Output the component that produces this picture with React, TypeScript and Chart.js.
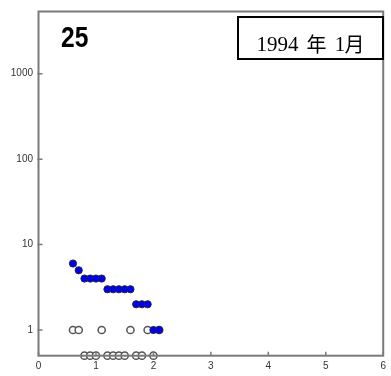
import React, { useEffect, useRef } from "react";
import { Chart, registerables } from "chart.js";

Chart.register(...registerables);

// Magnitude bins
const magnitudes = [0.6, 0.7, 0.8, 0.9, 1.0, 1.1, 1.2, 1.3, 1.4, 1.5, 1.6, 1.7, 1.8, 1.9, 2.0, 2.1];
// Cumulative number N(>=M) (filled blue)
const cumulativeCounts = [6, 5, 4, 4, 4, 4, 3, 3, 3, 3, 3, 2, 2, 2, 1, 1];
// Non-cumulative number per bin (hollow); zero counts drawn on the axis floor
const binCounts = [1, 1, 0, 0, 0, 1, 0, 0, 0, 0, 1, 0, 0, 1, 0, 1];
const zeroFloor = 0.5;

const xTicks = [0, 1, 2, 3, 4, 5, 6];
const yTicks = [1, 10, 100, 1000];

const panelNumber = "25";
const dateLabelParts = ["1994", "年", "1", "月"];

const W = 391;
const H = 376;

export default function App() {
  const ref = useRef<HTMLCanvasElement | null>(null);

  useEffect(() => {
    if (!ref.current) return;

    const framePlugin = {
      id: "frame",
      afterDraw(chart: any) {
        const ctx = chart.ctx as CanvasRenderingContext2D;
        const a = chart.chartArea;
        const xs = chart.scales.x;
        const ys = chart.scales.y;
        ctx.save();
        ctx.strokeStyle = "#7a7a7a";
        ctx.lineWidth = 2;
        ctx.strokeRect(a.left, a.top, a.right - a.left, a.bottom - a.top);
        ctx.lineWidth = 1.5;
        ctx.beginPath();
        for (const v of xTicks) {
          const px = xs.getPixelForValue(v);
          ctx.moveTo(px, a.bottom);
          ctx.lineTo(px, a.bottom - 4);
        }
        for (const v of yTicks) {
          const py = ys.getPixelForValue(v);
          ctx.moveTo(a.left - 1, py);
          ctx.lineTo(a.left + 4, py);
        }
        ctx.stroke();

        // Panel number
        ctx.fillStyle = "#000";
        ctx.save();
        ctx.translate(61, 46.5);
        ctx.scale(0.82, 1);
        ctx.font = "bold 30px 'Liberation Sans', Arial, sans-serif";
        ctx.textAlign = "left";
        ctx.textBaseline = "alphabetic";
        ctx.fillText(panelNumber, 0, 0);
        ctx.restore();

        // Date box
        ctx.fillStyle = "#fff";
        ctx.fillRect(238, 17, 145, 42);
        ctx.strokeStyle = "#000";
        ctx.lineWidth = 2;
        ctx.strokeRect(238, 17, 145, 42);
        ctx.fillStyle = "#000";
        ctx.textAlign = "center";
        ctx.textBaseline = "alphabetic";
        const centers = [277.5, 316.5, 340, 354.5];
        dateLabelParts.forEach((t, i) => {
          const isCJK = /[\u3000-\u9fff]/.test(t);
          ctx.font = isCJK
            ? "20px 'Noto Sans CJK JP', sans-serif"
            : "21px 'Liberation Serif', 'DejaVu Serif', serif";
          ctx.fillText(t, centers[i], isCJK ? 52 : 51);
        });
        ctx.restore();
      },
    };

    const chart = new Chart(ref.current, {
      type: "scatter",
      data: {
        datasets: [
          {
            label: "cumulative",
            data: magnitudes.map((m, i) => ({ x: m, y: cumulativeCounts[i] })),
            pointRadius: 3.6,
            pointBackgroundColor: "#0000f0",
            pointBorderColor: "#222244",
            pointBorderWidth: 1,
            clip: false,
          },
          {
            label: "per bin",
            data: magnitudes.map((m, i) => ({ x: m, y: binCounts[i] > 0 ? binCounts[i] : zeroFloor })),
            pointRadius: 3.6,
            pointBackgroundColor: "#ffffff",
            pointBorderColor: "#555555",
            pointBorderWidth: 1.5,
            clip: false,
          },
        ],
      },
      options: {
        responsive: false,
        animation: false,
        layout: { padding: { top: 5.7, right: 4.5, left: 0, bottom: 0 } },
        plugins: { legend: { display: false }, tooltip: { enabled: false } },
        scales: {
          x: {
            type: "linear",
            min: 0,
            max: 6,
            afterBuildTicks: (s: any) => {
              s.ticks = xTicks.map((v) => ({ value: v }));
            },
            afterFit: (s: any) => {
              s.height = 20.3;
            },
            grid: { display: false, drawTicks: false },
            border: { display: false },
            ticks: {
              padding: 5,
              color: "#333",
              font: { family: "'Liberation Sans', Arial, sans-serif", size: 10 },
              maxRotation: 0,
            },
          },
          y: {
            type: "logarithmic",
            min: 0.5,
            max: 5350,
            afterBuildTicks: (s: any) => {
              s.ticks = yTicks.map((v) => ({ value: v, major: false }));
            },
            afterFit: (s: any) => {
              s.width = 38.5;
            },
            grid: { display: false, drawTicks: false },
            border: { display: false },
            ticks: {
              padding: 5.5,
              color: "#333",
              font: { family: "'Liberation Sans', Arial, sans-serif", size: 10 },
              callback: (v: any) => String(v),
            },
          },
        },
      },
      plugins: [framePlugin],
    });

    return () => chart.destroy();
  }, []);

  return (
    <div style={{ position: "absolute", left: 0, top: 0, width: W, height: H, background: "#fff" }}>
      <canvas ref={ref} width={W} height={H} style={{ display: "block" }} />
    </div>
  );
}
